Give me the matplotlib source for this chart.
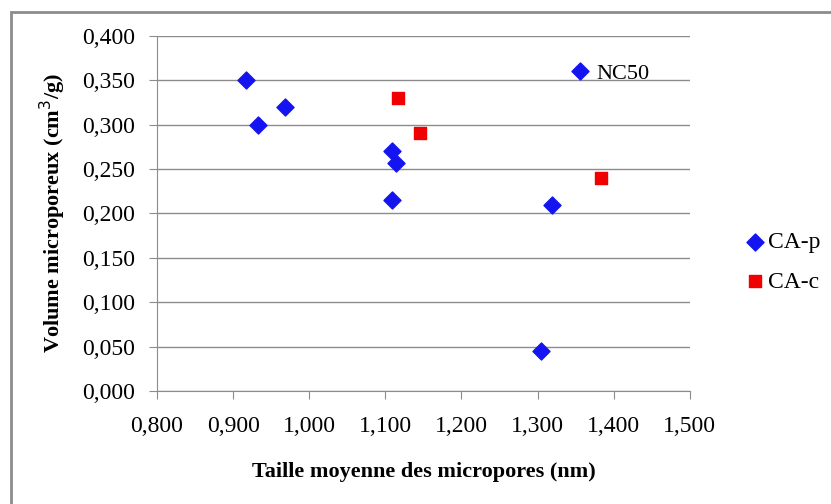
import numpy as np
import matplotlib
matplotlib.use('Agg')
import matplotlib.pyplot as plt
from matplotlib.patches import Rectangle
from matplotlib.ticker import FuncFormatter

# CA-p series (blue diamonds)
cap_x = [0.917, 0.933, 0.968, 1.109, 1.114, 1.109, 1.319, 1.356, 1.304]
cap_y = [0.350, 0.300, 0.320, 0.270, 0.257, 0.215, 0.209, 0.360, 0.045]
# CA-c series (red squares)
cac_x = [1.117, 1.145, 1.383]
cac_y = [0.330, 0.290, 0.240]

label_point = (1.356, 0.360, 'NC50')

plt.rcParams['font.family'] = ['Liberation Serif', 'DejaVu Serif']

fig = plt.figure(figsize=(8.31, 5.04), dpi=100)
ax = fig.add_axes([0.189, 0.224, 0.641, 0.705])

# outer chart frame
fig.patches.append(Rectangle((11 / 831, -0.05), 1.2, 1 - 12 / 504 + 0.05,
                             transform=fig.transFigure, fill=False,
                             edgecolor='#8c8c8c', linewidth=2))

ax.scatter(cap_x, cap_y, marker='D', s=75, color='#1414f0', label='CA-p', zorder=3)
ax.scatter(cac_x, cac_y, marker='s', s=65, color='#f00000', label='CA-c', zorder=3)
ax.annotate(label_point[2], (label_point[0], label_point[1]), xytext=(12, -2),
            textcoords='offset points', va='center', fontsize=16)

ax.set_xlim(0.8, 1.5)
ax.set_ylim(0, 0.4)
ax.set_xticks(np.arange(0.8, 1.501, 0.1))
ax.set_yticks(np.arange(0, 0.401, 0.05))
fmt = FuncFormatter(lambda v, p: f'{v:.3f}'.replace('.', ','))
ax.xaxis.set_major_formatter(fmt)
ax.yaxis.set_major_formatter(fmt)
ax.tick_params(labelsize=17, color='#8c8c8c', length=6)
ax.tick_params(axis='x', pad=12)
ax.tick_params(axis='y', pad=10)
ax.grid(axis='y', color='#8c8c8c', linewidth=1)
ax.set_axisbelow(True)
for s in ['top', 'right']:
    ax.spines[s].set_visible(False)
for s in ['left', 'bottom']:
    ax.spines[s].set_color('#8c8c8c')

ax.set_xlabel('Taille moyenne des micropores (nm)', fontsize=16, fontweight='bold', labelpad=18)
ax.set_ylabel('Volume microporeux (cm$^3$/g)', fontsize=16, fontweight='bold', labelpad=10)

ax.legend(loc='center left', bbox_to_anchor=(1.1, 0.363), frameon=False, fontsize=17,
          handlelength=1.0, handletextpad=0.05, labelspacing=0.75, borderaxespad=0,
          borderpad=0, scatterpoints=1)

fig.savefig('out.png', dpi=100)
